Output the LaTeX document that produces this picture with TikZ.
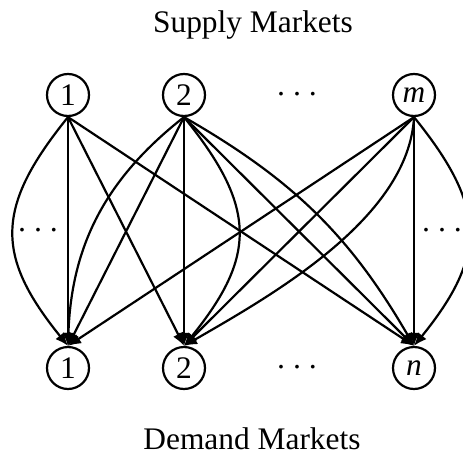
\documentclass[tikz,border=0pt]{standalone}
\usepackage{fontspec}
\setmainfont{Liberation Serif}
\usetikzlibrary{arrows.meta}

\newcommand{\mdots}{·\hspace{5.5pt}·\hspace{5.5pt}·}

\begin{document}
\begin{tikzpicture}[x=1pt,y=-1pt,
    market/.style={circle, draw, line width=2.2pt, minimum size=42pt, inner sep=0pt,
      font=\fontsize{31.4}{36}\selectfont},
    flow/.style={line width=2.2pt, -{Latex[length=13pt,width=11pt]}},
    label/.style={font=\fontsize{31.4}{36}\selectfont},
    dots/.style={label, anchor=base, yshift=-9pt}]
        \useasboundingbox (0,0) rectangle (463,455);

        % we draw supply and demand markets
        \node[market] (s1) at (68,95) {1};
        \node[market] (s2) at (184,95) {2};
        \node[market] (sm) at (414,95) {\textit{m}};
        \node[market] (d1) at (68,368) {1};
        \node[market] (d2) at (184,368) {2};
        \node[market] (dn) at (414,368) {\textit{n}};

        % we add the dots and titles
        \node[dots] (topdots) at (297,95) {\mdots};
        \node[dots] (botdots) at (297,368) {\mdots};
        \node[dots] (leftdots) at (38,231) {\mdots};
        \node[dots] (rightdots) at (442,231) {\mdots};
        \node[label, anchor=base] (supply) at (253,32) {Supply Markets};
        \node[label, anchor=base] (demand) at (252,449) {Demand Markets};

        % we draw flows from market 1
        \draw[flow] (s1.south) to[bend right=39, looseness=1.3] (d1.north);
        \draw[flow] (s1.south) -- (d1.north);
        \draw[flow] (s1.south) -- (d2.north);
        \draw[flow] (s1.south) -- (dn.north);

        % we draw flows from market 2
        \draw[flow] (s2.south) to[bend right=25] (d1.north);
        \draw[flow] (s2.south) -- (d1.north);
        \draw[flow] (s2.south) -- (d2.north);
        \draw[flow] (s2.south) to[bend left=39, looseness=1.3] (d2.north);
        \draw[flow] (s2.south) -- (dn.north);
        \draw[flow] (s2.south) to[bend left=15] (dn.north);

        % we draw flows from market m
        \draw[flow] (sm.south) -- (d1.north);
        \draw[flow] (sm.south) -- (d2.north);
        \draw[flow] (sm.south) to[out=267, in=30, looseness=0.8] (d2.north);
        \draw[flow] (sm.south) -- (dn.north);
        \draw[flow] (sm.south) to[bend left=39, looseness=1.3] (dn.north);
    \end{tikzpicture}
\end{document}
